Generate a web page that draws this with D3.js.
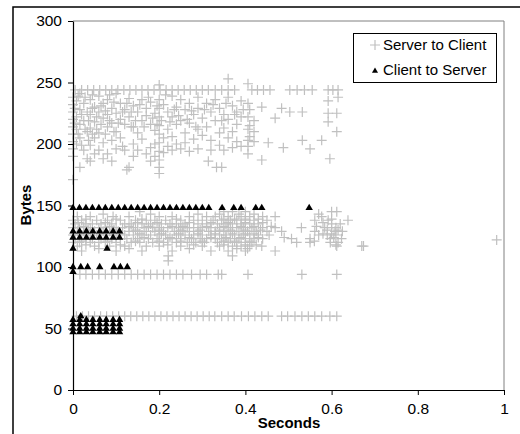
<!DOCTYPE html>
<html>
<head>
<meta charset="utf-8">
<script src="https://cdn.jsdelivr.net/npm/d3@7"></script>
<style>
  body { margin: 0; background: #fff; }
  text { font-family: "Liberation Sans", Arial, sans-serif; }
</style>
</head>
<body>
<div id="chart"></div>
<script>
// Server to Client: constant-size rows (x values, one y each)
const serverRow60 = [0.008, 0.022, 0.036, 0.05, 0.064, 0.078, 0.092, 0.106, 0.12, 0.134, 0.148, 0.162, 0.176, 0.19, 0.204, 0.218, 0.232, 0.246, 0.26, 0.274, 0.288, 0.302, 0.316, 0.329, 0.345, 0.36, 0.374, 0.391, 0.407, 0.422, 0.438, 0.453, 0.484, 0.498, 0.515, 0.531, 0.546, 0.561, 0.577, 0.596, 0.612];
const serverRow94 = [0.016, 0.03, 0.045, 0.06, 0.075, 0.09, 0.105, 0.12, 0.135, 0.15, 0.165, 0.18, 0.195, 0.21, 0.225, 0.24, 0.255, 0.275, 0.295, 0.31, 0.337, 0.345, 0.406, 0.531, 0.612];
const serverRow244 = [0.005, 0.02, 0.034, 0.048, 0.062, 0.076, 0.09, 0.104, 0.118, 0.132, 0.146, 0.16, 0.174, 0.188, 0.202, 0.216, 0.23, 0.244, 0.258, 0.272, 0.286, 0.3, 0.314, 0.33, 0.345, 0.36, 0.375, 0.415, 0.428, 0.442, 0.457, 0.503, 0.52, 0.537, 0.555, 0.592, 0.603, 0.615];

// Server to Client: dense band around 110-145 bytes (y, then x list)
const bandY = [145, 143, 141, 139, 138, 136, 135, 133, 132, 130, 129, 127, 126, 124, 123, 122, 121, 120, 118, 117, 115, 113, 109, 105];
const bandX = [
  [0.155, 0.35, 0.37, 0.4, 0.6, 0.612],
  [0.07, 0.18, 0.29, 0.34, 0.385, 0.42, 0.57],
  [0.01, 0.04, 0.093, 0.13, 0.2, 0.23, 0.27, 0.31, 0.33, 0.36, 0.39, 0.41, 0.44, 0.469, 0.577],
  [0.03, 0.1, 0.16, 0.24, 0.35, 0.375, 0.4, 0.43, 0.6],
  [0, 0.02, 0.055, 0.08, 0.11, 0.145, 0.17, 0.19, 0.215, 0.25, 0.28, 0.3, 0.325, 0.345, 0.365, 0.38, 0.4, 0.42, 0.45, 0.561, 0.592, 0.638],
  [0.012, 0.075, 0.15, 0.195, 0.27, 0.32, 0.36, 0.4, 0.44, 0.58],
  [0.005, 0.03, 0.045, 0.065, 0.09, 0.12, 0.135, 0.16, 0.18, 0.205, 0.225, 0.24, 0.26, 0.29, 0.31, 0.335, 0.355, 0.37, 0.39, 0.41, 0.43, 0.6, 0.62],
  [0.025, 0.085, 0.13, 0.175, 0.23, 0.255, 0.31, 0.35, 0.39, 0.42, 0.46, 0.565],
  [0, 0.015, 0.04, 0.06, 0.075, 0.1, 0.115, 0.14, 0.165, 0.185, 0.2, 0.22, 0.245, 0.265, 0.28, 0.3, 0.32, 0.34, 0.36, 0.38, 0.395, 0.415, 0.44, 0.469, 0.53, 0.584, 0.6, 0.61],
  [0.035, 0.095, 0.145, 0.2, 0.25, 0.295, 0.34, 0.365, 0.4, 0.435, 0.59, 0.615],
  [0.01, 0.025, 0.05, 0.07, 0.085, 0.105, 0.13, 0.15, 0.17, 0.19, 0.21, 0.235, 0.255, 0.27, 0.29, 0.315, 0.33, 0.35, 0.37, 0.385, 0.405, 0.425, 0.45, 0.484, 0.561, 0.608, 0.625],
  [0.015, 0.065, 0.11, 0.155, 0.205, 0.245, 0.29, 0.33, 0.37, 0.4, 0.42, 0.58, 0.6],
  [0, 0.02, 0.035, 0.055, 0.08, 0.095, 0.12, 0.14, 0.16, 0.18, 0.2, 0.215, 0.24, 0.26, 0.28, 0.3, 0.32, 0.34, 0.355, 0.375, 0.395, 0.41, 0.43, 0.455, 0.57, 0.59, 0.61],
  [0.04, 0.1, 0.165, 0.225, 0.27, 0.32, 0.355, 0.39, 0.43, 0.49, 0.605],
  [0.005, 0.03, 0.045, 0.065, 0.09, 0.11, 0.125, 0.15, 0.175, 0.195, 0.22, 0.23, 0.25, 0.275, 0.295, 0.31, 0.33, 0.345, 0.365, 0.385, 0.4, 0.42, 0.44, 0.507, 0.55, 0.597, 0.623],
  [0.983],
  [0.02, 0.08, 0.145, 0.2, 0.25, 0.3, 0.35, 0.375, 0.41, 0.56],
  [0, 0.015, 0.04, 0.06, 0.075, 0.1, 0.135, 0.155, 0.185, 0.21, 0.24, 0.265, 0.285, 0.305, 0.335, 0.36, 0.38, 0.4, 0.415, 0.519, 0.55, 0.597, 0.615],
  [0.03, 0.11, 0.22, 0.28, 0.35, 0.4, 0.425, 0.61],
  [0.01, 0.05, 0.085, 0.12, 0.17, 0.2, 0.25, 0.3, 0.34, 0.37, 0.39, 0.41, 0.438, 0.612, 0.67, 0.674],
  [0.06, 0.13, 0.27, 0.38, 0.405],
  [0.02, 0.1, 0.16, 0.23, 0.32, 0.36, 0.4, 0.469],
  [0.221, 0.37],
  [0.221]
];

// Server to Client: upper cluster 170-255 bytes, [x, y]
const serverUpper = [
  [0, 238], [0, 232], [0, 226], [0, 220], [0, 214], [0, 208], [0, 202], [0, 196], [0, 190], [0, 171],
  [0.008, 235], [0.008, 222], [0.008, 212], [0.008, 200], [0.016, 241], [0.016, 228], [0.016, 216],
  [0.016, 205], [0.016, 181], [0.025, 233], [0.025, 219], [0.025, 195], [0.033, 226], [0.033, 210],
  [0.033, 188], [0.04, 236], [0.04, 224], [0.04, 213], [0.04, 199], [0.04, 186], [0.05, 230],
  [0.05, 218], [0.05, 205], [0.05, 192], [0.06, 239], [0.06, 226], [0.06, 209], [0.06, 195],
  [0.07, 233], [0.07, 221], [0.07, 201], [0.07, 188], [0.08, 236], [0.08, 224], [0.08, 214],
  [0.08, 192], [0.09, 229], [0.09, 217], [0.09, 203], [0.09, 186], [0.1, 241], [0.1, 225], [0.1, 210],
  [0.1, 196], [0.11, 233], [0.11, 220], [0.11, 205], [0.12, 228], [0.12, 216], [0.12, 195], [0.125, 179],
  [0.13, 237], [0.13, 222], [0.13, 181], [0.14, 231], [0.14, 214], [0.14, 200], [0.14, 190],
  [0.15, 226], [0.15, 209], [0.15, 195], [0.16, 236], [0.16, 219], [0.16, 204], [0.17, 229],
  [0.17, 223], [0.17, 192], [0.18, 234], [0.18, 216], [0.18, 197], [0.18, 186], [0.19, 225],
  [0.19, 211], [0.19, 200], [0.19, 190], [0.2, 248], [0.2, 236], [0.2, 229], [0.2, 222], [0.2, 215],
  [0.2, 208], [0.2, 201], [0.2, 194], [0.2, 187], [0.2, 181], [0.2, 176], [0.205, 219], [0.21, 232],
  [0.21, 205], [0.21, 193], [0.22, 226], [0.22, 212], [0.22, 198], [0.23, 239], [0.23, 222],
  [0.23, 206], [0.23, 195], [0.24, 230], [0.24, 216], [0.24, 200], [0.25, 236], [0.25, 219],
  [0.25, 196], [0.26, 228], [0.26, 209], [0.26, 201], [0.27, 233], [0.27, 217], [0.27, 194],
  [0.28, 224], [0.28, 204], [0.29, 238], [0.29, 229], [0.29, 212], [0.29, 196], [0.3, 221],
  [0.3, 207], [0.31, 233], [0.31, 214], [0.314, 186], [0.32, 226], [0.32, 203], [0.32, 195],
  [0.33, 236], [0.33, 219], [0.333, 181], [0.34, 229], [0.34, 209], [0.34, 199], [0.345, 181],
  [0.35, 224], [0.35, 213], [0.35, 195], [0.36, 253], [0.36, 238], [0.36, 220], [0.36, 205],
  [0.37, 231], [0.37, 210], [0.37, 197], [0.38, 226], [0.38, 216], [0.38, 202], [0.39, 235],
  [0.39, 222], [0.39, 198], [0.406, 249], [0.406, 233], [0.406, 222], [0.406, 212], [0.406, 203],
  [0.406, 198], [0.406, 192], [0.41, 228], [0.41, 215], [0.41, 206], [0.42, 219], [0.42, 210],
  [0.42, 202], [0.438, 187], [0.438, 230], [0.453, 201], [0.469, 221], [0.484, 229], [0.488, 197],
  [0.503, 226], [0.532, 226], [0.532, 203], [0.55, 196], [0.577, 203], [0.592, 235], [0.592, 225],
  [0.592, 218], [0.596, 188], [0.612, 225], [0.612, 210], [0.615, 238],
  [0.004, 229], [0.004, 217], [0.012, 239], [0.012, 208], [0.02, 224], [0.02, 199], [0.028, 238],
  [0.028, 212], [0.036, 219], [0.036, 203], [0.045, 240], [0.045, 229], [0.045, 208], [0.055, 222],
  [0.055, 212], [0.065, 231], [0.065, 216], [0.075, 227], [0.075, 208], [0.085, 240], [0.085, 219],
  [0.095, 234], [0.095, 210], [0.105, 217], [0.115, 226], [0.115, 198], [0.125, 233], [0.135, 226],
  [0.135, 214], [0.145, 219], [0.155, 232], [0.165, 214], [0.175, 238], [0.185, 221], [0.195, 231],
  [0.195, 216], [0.215, 240], [0.225, 218], [0.235, 228], [0.245, 223], [0.265, 220], [0.275, 227],
  [0.285, 214], [0.305, 228], [0.325, 232], [0.345, 219], [0.355, 233], [0.375, 224], [0.395, 228]
];

// Client to Server: rows (y, then x list)
const clientY = [148, 129, 124, 115, 100, 96, 60, 57, 53.5, 50, 47];
const clientCols = [0, 0.0155, 0.031, 0.046, 0.062, 0.077, 0.093, 0.108];
const clientX = [
  [0, 0.015, 0.03, 0.045, 0.06, 0.075, 0.09, 0.105, 0.12, 0.135, 0.15, 0.165, 0.18, 0.195, 0.21, 0.225, 0.24, 0.255, 0.27, 0.285, 0.3, 0.315, 0.346, 0.373, 0.39, 0.424, 0.438, 0.548],
  clientCols,
  clientCols,
  [0, 0.079],
  [0, 0.018, 0.034, 0.062, 0.095, 0.11, 0.126],
  [0],
  [0.018],
  clientCols,
  clientCols,
  clientCols,
  clientCols
];

const xTicks = [0, 0.2, 0.4, 0.6, 0.8, 1];
const yTicks = [0, 50, 100, 150, 200, 250, 300];

const serverData = []
  .concat(serverRow60.map((x) => [x, 60]))
  .concat(serverRow94.map((x) => [x, 94]))
  .concat(serverRow244.map((x) => [x, 244]))
  .concat(serverUpper);
bandY.forEach((y, i) => bandX[i].forEach((x) => serverData.push([x, y])));

const clientData = [];
clientY.forEach((y, i) => clientX[i].forEach((x) => clientData.push([x, y])));

const width = 520;
const height = 434;

const svg = d3.select('#chart').append('svg')
  .attr('width', width)
  .attr('height', height);

const x = d3.scaleLinear().domain([0, 1]).range([73, 504]);
const y = d3.scaleLinear().domain([0, 300]).range([390, 21]);

// outer chart frame
svg.append('path')
  .attr('d', 'M13,436V7H522')
  .attr('fill', 'none')
  .attr('stroke', '#000')
  .attr('stroke-width', 1.5);

// plot area border (top / right)
svg.append('path')
  .attr('d', `M${x(0)},${y(300)}H${x(1)}V${y(0)}`)
  .attr('fill', 'none')
  .attr('stroke', '#808080')
  .attr('stroke-width', 1);

const cross = 'M-5,0H5M0,-5V5';

svg.append('g')
  .selectAll('path')
  .data(serverData)
  .enter().append('path')
  .attr('d', cross)
  .attr('transform', (d) => `translate(${x(d[0])},${y(d[1])})`)
  .attr('stroke', '#c0c0c0')
  .attr('stroke-width', 1.2)
  .attr('fill', 'none');

const tri = d3.symbol().type(d3.symbolTriangle).size(24);

svg.append('g')
  .selectAll('path')
  .data(clientData)
  .enter().append('path')
  .attr('d', tri)
  .attr('transform', (d) => `translate(${x(d[0])},${y(d[1])})`)
  .attr('fill', '#000');

// axes
const xAxis = svg.append('g')
  .attr('transform', `translate(0,${y(0)})`)
  .call(d3.axisBottom(x).tickValues(xTicks).tickSize(5).tickSizeOuter(0).tickPadding(8)
    .tickFormat((d) => String(d)));
const yAxis = svg.append('g')
  .attr('transform', `translate(${x(0)},0)`)
  .call(d3.axisLeft(y).tickValues(yTicks).tickSize(5).tickSizeOuter(0).tickPadding(6));

[xAxis, yAxis].forEach((a) => {
  a.select('.domain').attr('stroke', '#000').attr('stroke-width', 1.2);
  a.selectAll('.tick line').attr('stroke', '#000');
  a.selectAll('.tick text')
    .attr('fill', '#000')
    .style('font-family', '"Liberation Sans", Arial, sans-serif')
    .style('font-size', '15.5px');
});

// axis titles
svg.append('text')
  .attr('x', 289)
  .attr('y', 428)
  .attr('text-anchor', 'middle')
  .style('font-size', '15px')
  .style('font-weight', 'bold')
  .text('Seconds');

svg.append('text')
  .attr('transform', 'translate(31,205) rotate(-90)')
  .attr('text-anchor', 'middle')
  .style('font-size', '15px')
  .style('font-weight', 'bold')
  .text('Bytes');

// legend
const legend = svg.append('g');
legend.append('rect')
  .attr('x', 353.5)
  .attr('y', 33.5)
  .attr('width', 143)
  .attr('height', 49)
  .attr('fill', '#fff')
  .attr('stroke', '#000')
  .attr('stroke-width', 1);

legend.append('path')
  .attr('d', cross)
  .attr('transform', 'translate(375,45)')
  .attr('stroke', '#c0c0c0')
  .attr('stroke-width', 1.2);
legend.append('path')
  .attr('d', d3.symbol().type(d3.symbolTriangle).size(16))
  .attr('transform', 'translate(375,71)')
  .attr('fill', '#000');

legend.append('text')
  .attr('x', 383)
  .attr('y', 50)
  .style('font-size', '15px')
  .text('Server to Client');
legend.append('text')
  .attr('x', 383)
  .attr('y', 75)
  .style('font-size', '15px')
  .text('Client to Server');
</script>
</body>
</html>
